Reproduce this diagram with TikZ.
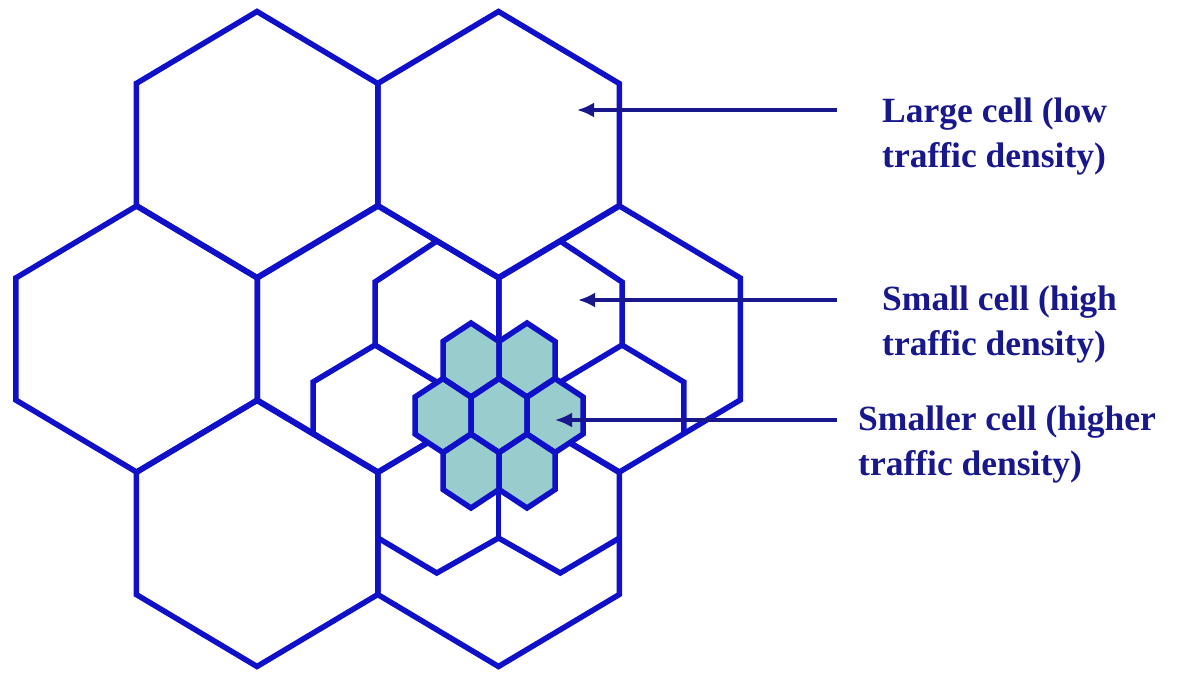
\documentclass[tikz,border=0pt]{standalone}
\usepackage{fontspec}
\setmainfont{Liberation Serif}
\usetikzlibrary{arrows.meta}
\definecolor{cellblue}{RGB}{16,16,200}
\definecolor{inkblue}{RGB}{24,24,140}
\definecolor{tealfill}{RGB}{153,204,204}
\tikzset{
  cellline/.style={draw=cellblue, line width=5.5pt},
  tinyfill/.style={fill=tealfill},
  pointer/.style={draw=inkblue, line width=3.2pt, -{Latex[length=17pt,width=15pt]}},
  caption/.style={anchor=base west, inner sep=0pt, text=inkblue,
                  font=\fontsize{35.5}{42}\selectfont\bfseries},
}
% large cell: half width 120.75, tip 133, shoulder 61
\newcommand{\largehex}[2]{\draw[cellline] (#1,#2) ++(0,-133) -- ++(120.75,72) -- ++(0,122) -- ++(-120.75,72) -- ++(-120.75,-72) -- ++(0,-122) -- cycle;}
% smallest cell: half width 28, tip 37, shoulder 18.5
\newcommand{\tinyhexpath}[2]{(#1,#2) ++(0,-37) -- ++(28,18.5) -- ++(0,37) -- ++(-28,18.5) -- ++(-28,-18.5) -- ++(0,-37) -- cycle}
\begin{document}
\begin{tikzpicture}[x=1pt,y=-1pt]
\path[use as bounding box] (0,0) rectangle (1178,672);

% seven large cells
\foreach \cx/\cy in {257/144.5, 498.5/144.5, 136.5/339, 378/339, 619.5/339, 257/533.5, 498.5/533.5}
  {\largehex{\cx}{\cy}}

% small cells (the parts not shared with large-cell borders)
\draw[cellline] (436.75,241.1) -- (375,282) -- (375,345) -- (440,384);
\draw[cellline] (375,345) -- (313,382) -- (313,433.2);
\draw[cellline] (560.25,241.1) -- (622,282) -- (622,345) -- (557,384);
\draw[cellline] (622,345) -- (683.75,382) -- (683.75,433.7);
\draw[cellline] (378,538) -- (436.75,573) -- (498.5,538) -- (560.25,573) -- (619.5,538);
\draw[cellline] (498.5,538) -- (498.5,485);

% smaller cells, filled
\foreach \cx/\cy in {471/360, 527/360, 443/415.5, 499/415.5, 555/415.5, 471/471, 527/471}
  {\fill[tinyfill] \tinyhexpath{\cx}{\cy};}
\foreach \cx/\cy in {471/360, 527/360, 443/415.5, 499/415.5, 555/415.5, 471/471, 527/471}
  {\draw[cellline] \tinyhexpath{\cx}{\cy};}

% captions
\node[caption] (large1) at (882,122) {Large cell (low};
\node[caption] (large2) at (882,167) {traffic density)};
\node[caption] (small1) at (882,310) {Small cell (high};
\node[caption] (small2) at (882,355) {traffic density)};
\node[caption] (smaller1) at (858,430) {Smaller cell (higher};
\node[caption] (smaller2) at (858,475) {traffic density)};

% pointers
\coordinate (p1) at (837,110); \coordinate (t1) at (577,110);
\coordinate (p2) at (837,300); \coordinate (t2) at (578,300);
\coordinate (p3) at (837,420); \coordinate (t3) at (555,420);
\draw[pointer] (p1) -- (t1);
\draw[pointer] (p2) -- (t2);
\draw[pointer] (p3) -- (t3);
\end{tikzpicture}
\end{document}
